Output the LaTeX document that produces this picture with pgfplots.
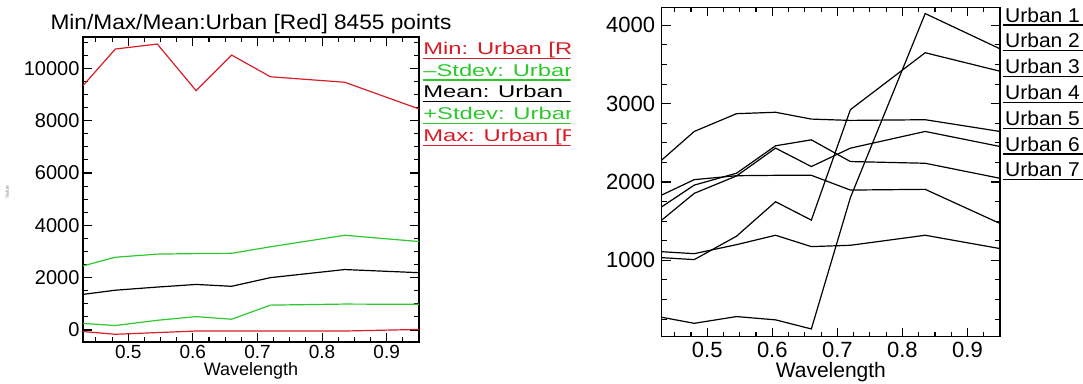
\documentclass[border=0pt]{standalone}
\usepackage{fontspec}
\setmainfont{Liberation Sans}
\usepackage{pgfplots}
\pgfplotsset{compat=1.18}
\definecolor{myred}{RGB}{215,30,40}
\definecolor{mygreen}{RGB}{45,200,45}
\newcommand{\fs}[1]{\fontsize{#1}{#1}\selectfont}
\pgfplotsset{
  common/.style={
    scale only axis, anchor=south west,
    scaled ticks=false,
    axis line style={line width=1.5pt},
    major tick length=9pt, minor tick length=5pt,
    every tick/.style={black, line width=1.1pt},
    minor xtick={0.45,0.475,0.5,0.525,0.55,0.575,0.6,0.625,0.65,0.675,0.7,0.725,0.75,0.775,0.8,0.825,0.85,0.875,0.9,0.925},
    xtick={0.5,0.6,0.7,0.8,0.9},
    xticklabels={0.5,0.6,0.7,0.8,0.9},
    clip=true,
  }
}
\begin{document}
\begin{tikzpicture}[x=1pt,y=1pt]
\useasboundingbox (0,0) rectangle (1083,383);
% ---------------- left panel ----------------
\begin{axis}[common,
  at={(83pt,41pt)}, width=336pt, height=305pt,
  xmin=0.43, xmax=0.95, ymin=-460, ymax=11200,
  ytick={0,2000,4000,6000,8000,10000},
  yticklabels={0,2000,4000,6000,8000,10000},
  minor ytick={500,1000,...,11000},
  yticklabel style={font=\fs{20}},
  xticklabel style={font=\fs{19}},
  xlabel={Wavelength},
  xlabel style={font=\fs{18}, yshift=3pt},
]
\addplot[myred, line width=1.2pt] coordinates {(0.43,9340) (0.48,10740) (0.545,10930) (0.605,9150) (0.66,10510) (0.72,9680) (0.835,9470) (0.95,8450)};
\addplot[mygreen, line width=1.2pt] coordinates {(0.43,2450) (0.48,2780) (0.545,2900) (0.605,2920) (0.66,2930) (0.72,3180) (0.835,3620) (0.95,3380)};
\addplot[black, line width=1.2pt] coordinates {(0.43,1360) (0.48,1520) (0.545,1640) (0.605,1740) (0.66,1670) (0.72,2000) (0.835,2310) (0.95,2190)};
\addplot[mygreen, line width=1.2pt] coordinates {(0.43,250) (0.48,170) (0.545,370) (0.605,510) (0.66,410) (0.72,950) (0.835,990) (0.95,980)};
\addplot[myred, line width=1.2pt] coordinates {(0.43,-60) (0.48,-165) (0.545,-100) (0.605,-40) (0.66,-40) (0.72,-40) (0.835,-40) (0.95,20)};
\end{axis}
\node[font=\fs{21}, xscale=1.08] at (251,359) {Min/Max/Mean:Urban [Red] 8455 points};
\node[rotate=90, font=\fs{5}, gray] at (7,191) {Value};
\begin{scope}
\clip (421,200) rectangle (570.5,350);
\foreach \t/\c [count=\i from 0] in {{Min: Urban [R}/myred, {–Stdev: Urban [}/mygreen, {Mean: Urban [}/black, {+Stdev: Urban [}/mygreen, {Max: Urban [R}/myred}{
  \node[anchor=west, inner sep=0pt, font=\fs{17}, xscale=1.4, text=\c] at (423,{333-21.7*\i}) {\t};
  \draw[\c, line width=1.1pt] (422.7,{324.7-21.7*\i}) -- (575,{324.7-21.7*\i});
}
\end{scope}
% ---------------- right panel ----------------
\begin{axis}[common,
  at={(661.7pt,46.3pt)}, width=338.3pt, height=329.4pt,
  xmin=0.43, xmax=0.95, ymin=25, ymax=4230,
  ytick={1000,2000,3000,4000},
  yticklabels={1000,2000,3000,4000},
  minor ytick={250,500,...,4000},
  yticklabel style={font=\fs{22}, xshift=-3pt},
  xticklabel style={font=\fs{22}, yshift=-2pt},
  xlabel={Wavelength},
  xlabel style={font=\fs{21}, yshift=2pt},
]
\addplot[black, line width=1.2pt] coordinates {(0.43,2280) (0.48,2645) (0.545,2872) (0.605,2890) (0.66,2803) (0.72,2786) (0.835,2795) (0.95,2645)};
\addplot[black, line width=1.2pt] coordinates {(0.43,1683) (0.48,1960) (0.545,2112) (0.605,2462) (0.66,2538) (0.72,2261) (0.835,2239) (0.95,2047)};
\addplot[black, line width=1.2pt] coordinates {(0.43,1513) (0.48,1855) (0.545,2077) (0.605,2432) (0.66,2197) (0.72,2432) (0.835,2645) (0.95,2453)};
\addplot[black, line width=1.2pt] coordinates {(0.43,1833) (0.48,2030) (0.545,2080) (0.605,2085) (0.66,2085) (0.72,1897) (0.835,1906) (0.95,1470)};
\addplot[black, line width=1.2pt] coordinates {(0.43,1110) (0.48,1085) (0.545,1200) (0.605,1320) (0.66,1175) (0.72,1192) (0.835,1320) (0.95,1150)};
\addplot[black, line width=1.2pt] coordinates {(0.43,1034) (0.48,1009) (0.545,1308) (0.605,1748) (0.66,1513) (0.72,2923) (0.835,3650) (0.95,3414)};
\addplot[black, line width=1.2pt] coordinates {(0.43,273) (0.48,196) (0.545,282) (0.605,240) (0.66,124) (0.72,1800) (0.835,4150) (0.95,3700)};
\end{axis}
\foreach \i in {1,...,7}{
  \node[anchor=west, inner sep=0pt, font=\fs{20}, xscale=1.05] at (1005,{368-25.8*(\i-1)}) {Urban \i};
  \draw[black, line width=1.1pt] (1003,{358-25.8*(\i-1)}) -- (1083,{358-25.8*(\i-1)});
}
\end{tikzpicture}
\end{document}
